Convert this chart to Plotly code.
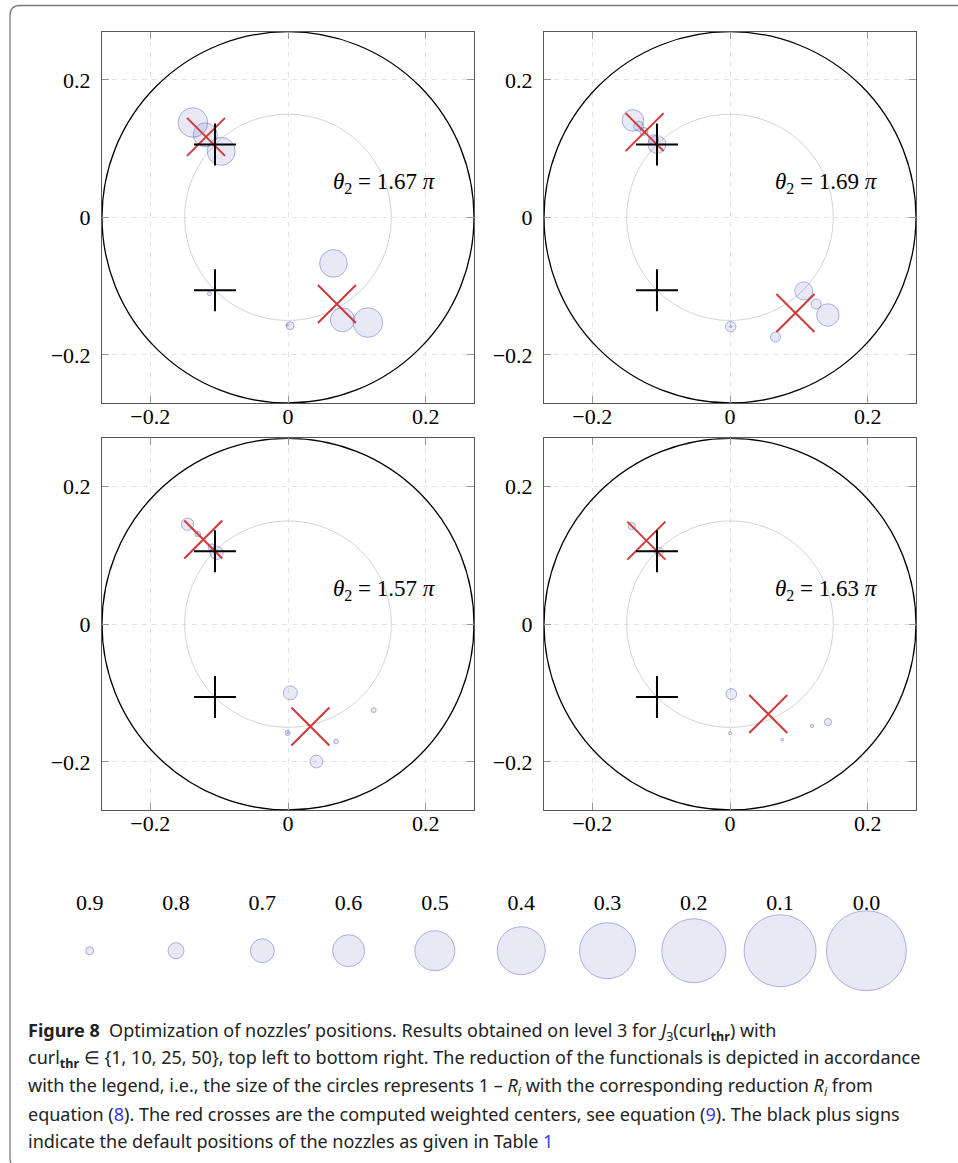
import plotly.graph_objects as go

W, H = 958, 1163

# ---------------- data ----------------
theta_labels = ["1.67", "1.69", "1.57", "1.63"]
label_x = [0.14, 0.14, 0.14, 0.14]
label_y = [0.05, 0.05, 0.05, 0.05]

outer_radius = 0.27
inner_radius = 0.15

# default nozzle positions (black plus signs)
default_x = [-0.106, -0.106]
default_y = [0.106, -0.106]

# panel 1 (curl_thr = 1)
p1_x = [-0.138, -0.120, -0.097, 0.066, 0.079, 0.116, 0.003, -0.0015, -0.114]
p1_y = [0.138, 0.120, 0.096, -0.067, -0.149, -0.153, -0.1575, -0.157, -0.111]
p1_R = [0.63, 0.70, 0.65, 0.655, 0.70, 0.63, 0.90, 0.975, 0.95]
p1_cx = [-0.119, 0.071]
p1_cy = [0.117, -0.126]

# panel 2 (curl_thr = 10)
p2_x = [-0.141, -0.1325, -0.125, -0.111, -0.106, 0.107, 0.125, 0.142, 0.066, 0.001, 0.001]
p2_y = [0.141, 0.1325, 0.125, 0.113, 0.106, -0.107, -0.126, -0.142, -0.174, -0.159, -0.159]
p2_R = [0.73, 0.875, 0.90, 0.875, 0.775, 0.775, 0.875, 0.72, 0.875, 0.87, 0.975]
p2_cx = [-0.124, 0.095]
p2_cy = [0.124, -0.139]

# panel 3 (curl_thr = 25)
p3_x = [-0.1458, -0.131, -0.1114, -0.1037, 0.0034, 0.1245, -0.0005, -0.0005, 0.0698, 0.0412]
p3_y = [0.1453, 0.131, 0.112, 0.1036, -0.0998, -0.125, -0.158, -0.158, -0.1705, -0.1996]
p3_R = [0.845, 0.93, 0.92, 0.835, 0.825, 0.94, 0.935, 0.98, 0.94, 0.84]
p3_cx = [-0.123, 0.0325]
p3_cy = [0.123, -0.1487]

# panel 4 (curl_thr = 50)
p4_x = [-0.1426, -0.103, 0.0019, 0.1422, 0.119, 0.0, 0.0759]
p4_y = [0.1426, 0.1054, -0.1015, -0.1422, -0.148, -0.1586, -0.1678]
p4_R = [0.91, 0.89, 0.865, 0.91, 0.96, 0.96, 0.965]
p4_cx = [-0.1214, 0.0556]
p4_cy = [0.1214, -0.1306]

# legend
legend_R = [0.9, 0.8, 0.7, 0.6, 0.5, 0.4, 0.3, 0.2, 0.1, 0.0]
legend_labels = ["0.9", "0.8", "0.7", "0.6", "0.5", "0.4", "0.3", "0.2", "0.1", "0.0"]

tick_vals = [-0.2, 0, 0.2]
tick_text = ["\u22120.2", "0", "0.2"]

# ---------------- styling ----------------
MAXR_PX = 40.0
FILL = "rgba(40,50,170,0.15)"
EDGE = "rgba(60,70,180,0.58)"
RED = "#cf3a3a"
SERIF = "Liberation Serif"
TICKFONT = dict(family=SERIF, size=22, color="black")

panels = [
    (p1_x, p1_y, p1_R, p1_cx, p1_cy),
    (p2_x, p2_y, p2_R, p2_cx, p2_cy),
    (p3_x, p3_y, p3_R, p3_cx, p3_cy),
    (p4_x, p4_y, p4_R, p4_cx, p4_cy),
]

# panel boxes in pixels (left, right, top, bottom)
boxes = [
    (102, 474, 31.7, 403),
    (544, 916, 31.7, 403),
    (102, 474, 438.3, 810),
    (544, 916, 438.3, 810),
]

fig = go.Figure()
layout = dict(
    width=W, height=H,
    margin=dict(l=0, r=0, t=0, b=0),
    paper_bgcolor="white", plot_bgcolor="white",
    showlegend=False,
    shapes=[], annotations=[],
)


def size_of(R):
    return [2 * MAXR_PX * (1 - r) for r in R]


for i, (px, py, pR, cx, cy) in enumerate(panels):
    n = "" if i == 0 else str(i + 1)
    xa, ya = "x" + n, "y" + n
    l, r, t, b = boxes[i]
    axcommon = dict(
        range=[-outer_radius, outer_radius],
        tickvals=tick_vals, ticktext=tick_text,
        showgrid=True, gridcolor="#e2e2e2", griddash="5px,5px", gridwidth=1,
        zeroline=False,
        showline=True, linecolor="#555", linewidth=1, mirror="ticks",
        ticks="inside", ticklen=7, tickcolor="#999", tickwidth=1,
        tickfont=TICKFONT, fixedrange=True,
    )
    layout["xaxis" + n] = dict(axcommon, domain=[l / W, r / W], anchor=ya,
                               ticklabelstandoff=-6)
    layout["yaxis" + n] = dict(axcommon, domain=[1 - b / H, 1 - t / H], anchor=xa,
                               ticklabelstandoff=6)

    # circles
    for rad, col, wid in [(outer_radius, "black", 1.3), (inner_radius, "#d4d4d4", 1)]:
        layout["shapes"].append(dict(
            type="circle", xref=xa, yref=ya,
            x0=-rad, y0=-rad, x1=rad, y1=rad,
            line=dict(color=col, width=wid), layer="between"))

    fig.add_trace(go.Scatter(
        x=px, y=py, mode="markers", xaxis=xa, yaxis=ya,
        marker=dict(size=size_of(pR), color=FILL,
                    line=dict(color=EDGE, width=1), symbol="circle"),
        hoverinfo="skip"))
    fig.add_trace(go.Scatter(
        x=cx, y=cy, mode="markers", xaxis=xa, yaxis=ya,
        marker=dict(symbol="x-thin", size=38, color=RED,
                    line=dict(color=RED, width=2)),
        hoverinfo="skip"))
    fig.add_trace(go.Scatter(
        x=default_x, y=default_y, mode="markers", xaxis=xa, yaxis=ya,
        marker=dict(symbol="cross-thin", size=30, color="black",
                    line=dict(color="black", width=2)),
        hoverinfo="skip"))

    layout["annotations"].append(dict(
        x=label_x[i], y=label_y[i], xref=xa, yref=ya,
        text="<i>\u03b8</i><sub>2</sub> = " + theta_labels[i] + " <i>\u03c0</i>",
        showarrow=False, font=dict(family=SERIF, size=23, color="black"),
        xanchor="center", yanchor="middle"))

# ---------------- legend ----------------
lx0, dx = 89.7, 86.3
layout["xaxis5"] = dict(domain=[0, 1], range=[-lx0 / dx, (W - lx0) / dx],
                        visible=False, fixedrange=True, anchor="y5")
layout["yaxis5"] = dict(domain=[1 - 1000 / H, 1 - 870 / H], range=[-1.0776, 1.765],
                        visible=False, fixedrange=True, anchor="x5")
idx = list(range(len(legend_R)))
fig.add_trace(go.Scatter(
    x=idx, y=[0] * len(idx), mode="markers", xaxis="x5", yaxis="y5",
    marker=dict(size=size_of(legend_R), color=FILL,
                line=dict(color=EDGE, width=1)),
    hoverinfo="skip"))
fig.add_trace(go.Scatter(
    x=idx, y=[1] * len(idx), mode="text", xaxis="x5", yaxis="y5",
    text=legend_labels, textposition="middle center",
    textfont=TICKFONT, hoverinfo="skip"))

# ---------------- caption ----------------
BLUE = "#3a3af0"
cap_lines = [
    "<b>Figure 8</b>  Optimization of nozzles\u2019 positions. Results obtained on level 3 for "
    "<i>J</i><sub>3</sub>(curl<sub><b>thr</b></sub>) with",
    "curl<sub><b>thr</b></sub> \u2208 {1, 10, 25, 50}, top left to bottom right. The reduction of the "
    "functionals is depicted in accordance",
    "with the legend, i.e., the size of the circles represents 1 \u2013 <i>R<sub>i</sub></i> with the "
    "corresponding reduction <i>R<sub>i</sub></i> from",
    "equation (<span style='color:" + BLUE + "'>8</span>). The red crosses are the computed weighted "
    "centers, see equation (<span style='color:" + BLUE + "'>9</span>). The black plus signs",
    "indicate the default positions of the nozzles as given in Table "
    "<span style='color:" + BLUE + "'>1</span>",
]
cap_y = [1031, 1058.5, 1086, 1113.5, 1141]
for txt, yy in zip(cap_lines, cap_y):
    layout["annotations"].append(dict(
        x=26 / W, y=1 - yy / H, xref="paper", yref="paper",
        text=txt, showarrow=False, xanchor="left", yanchor="middle",
        font=dict(family="Noto Sans", size=18, color="#222")))

# frame


def P(x, y):
    return f"{x / W:.5f},{1 - y / H:.5f}"


frame_path = ("M" + P(975, 5.5) + " L" + P(20, 5.5) + " Q" + P(10, 5.5) + " " + P(10, 15.5) +
              " L" + P(10, 1158) + " Q" + P(10, 1168) + " " + P(20, 1168) + " L" + P(975, 1168))
layout["shapes"].append(dict(type="path", xref="paper", yref="paper", path=frame_path,
                             line=dict(color="#7a7a7a", width=1.3)))

fig.update_layout(**layout)
fig.write_html("out.html")
